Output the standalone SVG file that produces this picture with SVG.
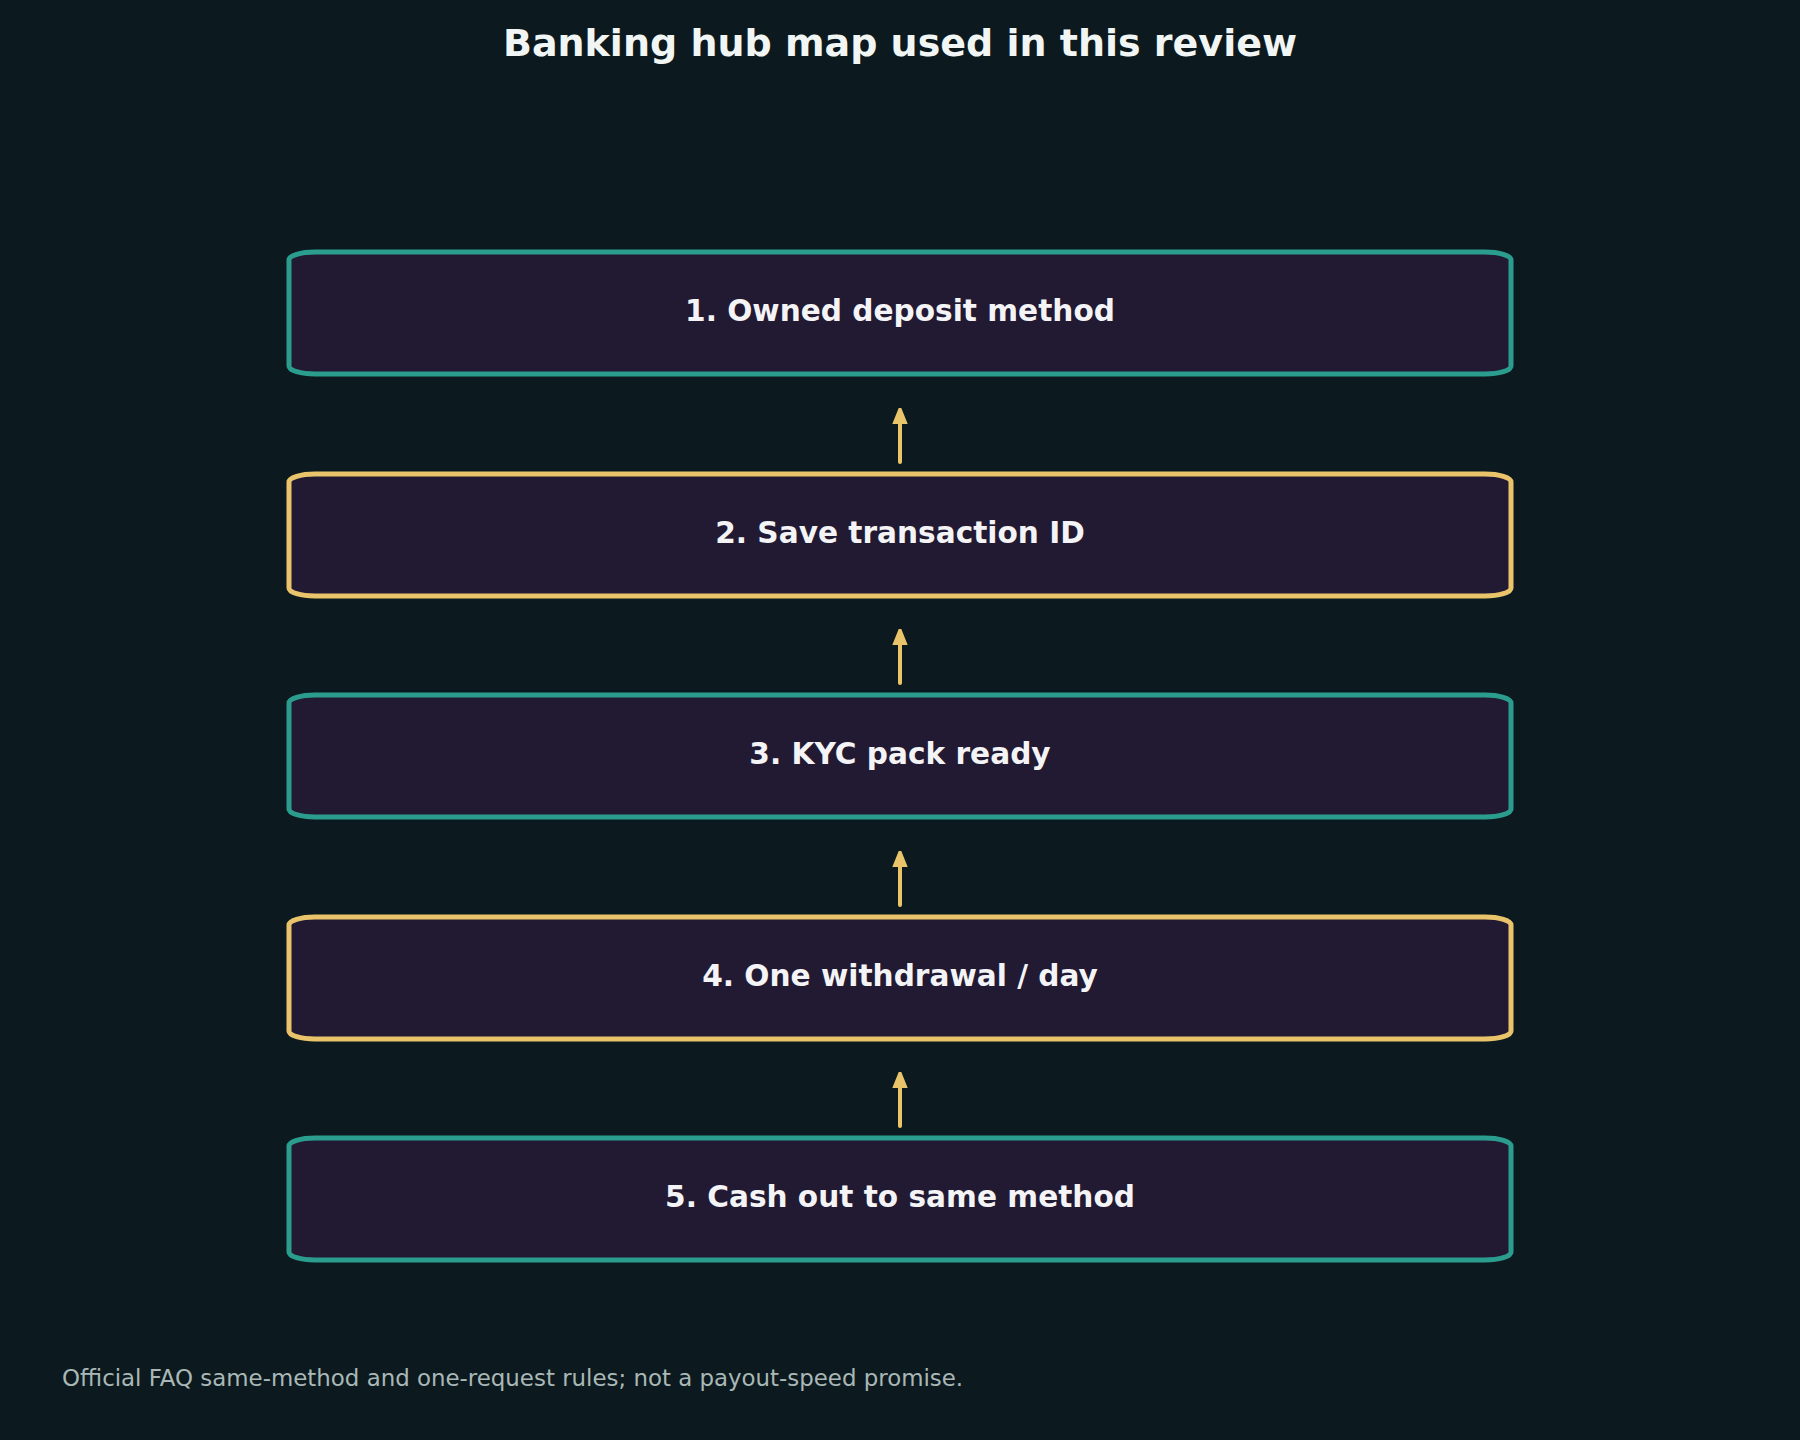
<svg xmlns="http://www.w3.org/2000/svg" width="1800" height="1440" viewBox="0 0 1800 1440">
<style>
.bg{fill:#0C1A1F}
.box{fill:#221A33;stroke-width:5}
.teal{stroke:#2A9D8F}
.gold{stroke:#E9C46A}
.lbl{font-family:"DejaVu Sans",sans-serif;font-weight:bold;font-size:29.6px;fill:#F4F4F6;text-anchor:middle}
.title{font-family:"DejaVu Sans",sans-serif;font-weight:bold;font-size:38px;fill:#F1F6F4;text-anchor:middle}
.foot{font-family:"DejaVu Sans",sans-serif;font-size:22.9px;fill:#A9B8B6}
.conn{stroke:#E9C46A;stroke-width:4;stroke-linecap:round;fill:none}
</style>
<defs>
<marker id="ah" viewBox="0 0 10 10" refX="5" refY="5" markerWidth="4" markerHeight="4" orient="auto" markerUnits="strokeWidth">
<path d="M0,1 L10,5 L0,9 Z" fill="#E9C46A" stroke="#E9C46A" stroke-width="1.5" stroke-linejoin="round"/>
</marker>
</defs>
<rect class="bg" x="0" y="0" width="1800" height="1440"/>
<text class="title" x="900" y="56">Banking hub map used in this review</text>
<g id="connectors">
<line class="conn" x1="900" y1="462" x2="900" y2="416" marker-end="url(#ah)"/>
<line class="conn" x1="900" y1="683" x2="900" y2="637" marker-end="url(#ah)"/>
<line class="conn" x1="900" y1="905" x2="900" y2="859" marker-end="url(#ah)"/>
<line class="conn" x1="900" y1="1126" x2="900" y2="1080" marker-end="url(#ah)"/>
</g>
<g id="node1">
<rect class="box teal" x="289" y="252" width="1222" height="122" rx="26" ry="8"/>
<text class="lbl" x="900" y="321">1. Owned deposit method</text>
</g>
<g id="node2">
<rect class="box gold" x="289" y="474" width="1222" height="122" rx="26" ry="8"/>
<text class="lbl" x="900" y="543">2. Save transaction ID</text>
</g>
<g id="node3">
<rect class="box teal" x="289" y="695" width="1222" height="122" rx="26" ry="8"/>
<text class="lbl" x="900" y="764">3. KYC pack ready</text>
</g>
<g id="node4">
<rect class="box gold" x="289" y="917" width="1222" height="122" rx="26" ry="8"/>
<text class="lbl" x="900" y="986">4. One withdrawal / day</text>
</g>
<g id="node5">
<rect class="box teal" x="289" y="1138" width="1222" height="122" rx="26" ry="8"/>
<text class="lbl" x="900" y="1207">5. Cash out to same method</text>
</g>
<text class="foot" x="62" y="1386">Official FAQ same-method and one-request rules; not a payout-speed promise.</text>
</svg>
